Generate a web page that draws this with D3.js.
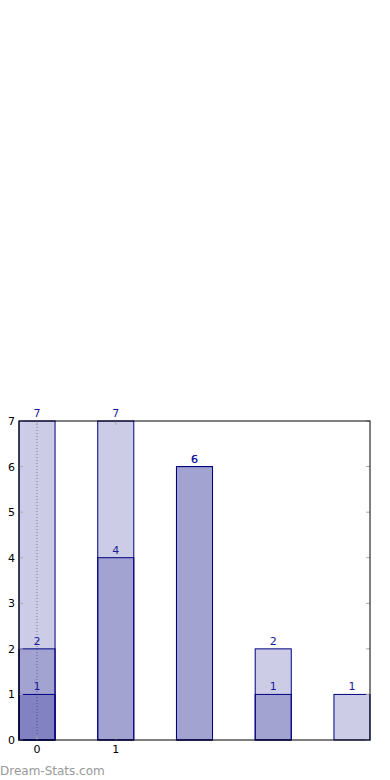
<!DOCTYPE html>
<html>
<head>
<meta charset="utf-8">
<script src="https://cdn.jsdelivr.net/npm/d3@7"></script>
<style>
  body { margin: 0; background: #fff; }
  svg { display: block; font-family: "DejaVu Sans", sans-serif; }
</style>
</head>
<body>
<div id="chart"></div>
<script>
(function () {
    const positions = [0, 1, 2, 3, 4];
    // overlaid layers, drawn from 0 each time
    const layerA = [7, 7, 6, 2, 1];
    const layerB = [2, 4, 6, 1, null];
    const layerC = [1, null, null, null, null];
    const layers = [layerA, layerB, layerC];
    const xTicks = [0, 1];
    const yTicks = [0, 1, 2, 3, 4, 5, 6, 7];

    const W = 390, H = 780;
    const margin = { top: 421, right: 20, bottom: 40, left: 19 };
    const width = W - margin.left - margin.right;
    const height = H - margin.top - margin.bottom;

    const halfW = 0.229;
    const x = d3.scaleLinear().domain([-halfW, 4 + halfW]).range([0, width]);
    const y = d3.scaleLinear().domain([0, 7]).range([height, 0]);

    const svg = d3.select("#chart")
        .append("svg")
        .attr("width", W)
        .attr("height", H);

    const g = svg.append("g")
        .attr("transform", `translate(${margin.left},${margin.top})`);

    // dotted line at x = 0
    g.append("line")
        .attr("x1", x(0)).attr("x2", x(0))
        .attr("y1", 0).attr("y2", height)
        .attr("stroke", "#9a9aa8")
        .attr("stroke-width", 1)
        .attr("stroke-dasharray", "1,2");

    // bars
    layers.forEach(layer => {
        const d = positions.map((p, i) => ({ p, v: layer[i] })).filter(d => d.v != null);
        g.selectAll(null)
            .data(d)
            .join("rect")
            .attr("x", d => x(d.p - halfW))
            .attr("width", d => x(d.p + halfW) - x(d.p - halfW))
            .attr("y", d => y(d.v))
            .attr("height", d => y(0) - y(d.v))
            .attr("fill", "navy")
            .attr("fill-opacity", 0.2)
            .attr("stroke", "navy")
            .attr("stroke-width", 1);

        g.selectAll(null)
            .data(d)
            .join("text")
            .attr("x", d => x(d.p))
            .attr("y", d => y(d.v) - 4)
            .attr("text-anchor", "middle")
            .attr("font-size", 11)
            .attr("fill", "#1a1a9a")
            .text(d => d.v);
    });

    // ticks (inside, gray)
    const tickColor = "#aaaaaa";
    g.selectAll(".ytl").data(yTicks).join("line")
        .attr("x1", 0).attr("x2", 4)
        .attr("y1", d => y(d)).attr("y2", d => y(d))
        .attr("stroke", tickColor);
    g.selectAll(".ytr").data(yTicks).join("line")
        .attr("x1", width - 4).attr("x2", width)
        .attr("y1", d => y(d)).attr("y2", d => y(d))
        .attr("stroke", tickColor);
    g.selectAll(".xtb").data(xTicks).join("line")
        .attr("x1", d => x(d)).attr("x2", d => x(d))
        .attr("y1", height).attr("y2", height - 4)
        .attr("stroke", tickColor);
    g.selectAll(".xtt").data(xTicks).join("line")
        .attr("x1", d => x(d)).attr("x2", d => x(d))
        .attr("y1", 0).attr("y2", 4)
        .attr("stroke", tickColor);

    // frame
    g.append("rect")
        .attr("x", 0).attr("y", 0)
        .attr("width", width).attr("height", height)
        .attr("fill", "none")
        .attr("stroke", "#000")
        .attr("stroke-width", 1);

    // tick labels
    g.selectAll(".yl").data(yTicks).join("text")
        .attr("x", -4)
        .attr("y", d => y(d) + 4)
        .attr("text-anchor", "end")
        .attr("font-size", 11)
        .text(d => d);
    g.selectAll(".xl").data(xTicks).join("text")
        .attr("x", d => x(d))
        .attr("y", height + 13)
        .attr("text-anchor", "middle")
        .attr("font-size", 11)
        .text(d => d);

    // watermark
    svg.append("text")
        .attr("x", 0)
        .attr("y", 775)
        .attr("font-size", 12)
        .attr("fill", "#999")
        .text("Dream-Stats.com");
})();
</script>
</body>
</html>
